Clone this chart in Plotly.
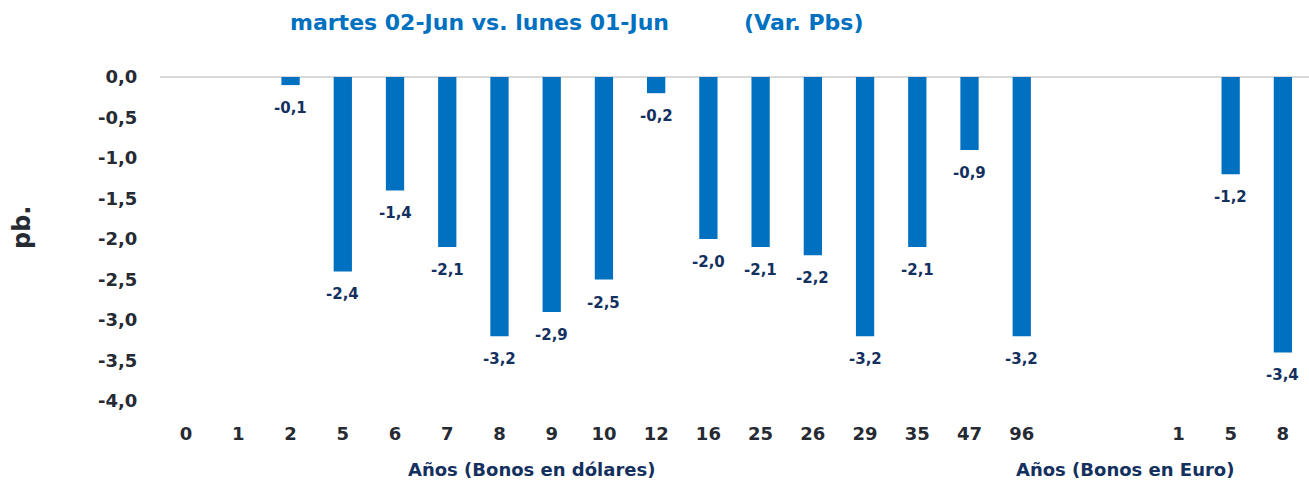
import plotly.graph_objects as go

categories = ["0", "1", "2", "5", "6", "7", "8", "9", "10", "12", "16", "25", "26", "29",
              "35", "47", "96", "", "", "1", "5", "8"]
values = [0.0, 0.0, -0.1, -2.4, -1.4, -2.1, -3.2, -2.9, -2.5, -0.2, -2.0, -2.1, -2.2, -3.2,
          -2.1, -0.9, -3.2, None, None, 0.0, -1.2, -3.4]
y_ticks = [0.0, -0.5, -1.0, -1.5, -2.0, -2.5, -3.0, -3.5, -4.0]

FONT = "DejaVu Sans"
BAR = "#0070C0"
NAVY = "#14305E"
DARK = "#262A33"

W, H = 1309, 486
L, R, T, B = 160, 0, 77, 85


def fmt(v):
    return ("%.1f" % v).replace(".", ",")


xs = list(range(len(categories)))

fig = go.Figure(go.Bar(
    x=xs, y=values, marker=dict(color=BAR, line=dict(width=0)),
))

anns = []
for xi, v in zip(xs, values):
    if v is None or v == 0:
        continue
    anns.append(dict(x=xi, y=v, xref="x", yref="y", text=fmt(v), showarrow=False,
                     yanchor="middle", yshift=-23,
                     font=dict(family=FONT, size=15, color=NAVY, weight="bold")))

pw, ph = W - L - R, H - T - B


def px_ann(text, px, py, anchor, size, color, angle=0):
    return dict(text=text, showarrow=False, xref="paper", yref="paper",
                x=(px - L) / pw, y=1 - (py - T) / ph, xanchor=anchor, yanchor="middle",
                textangle=angle,
                font=dict(family=FONT, size=size, color=color, weight="bold"))


anns += [
    px_ann("martes 02-Jun vs. lunes 01-Jun", 288, 23, "left", 22, BAR),
    px_ann("(Var. Pbs)", 742, 23, "left", 22, BAR),
    px_ann("Años (Bonos en dólares)", 531, 469, "center", 18, NAVY),
    px_ann("Años (Bonos en Euro)", 1125, 469, "center", 18, NAVY),
    px_ann("pb.", 22, 228, "center", 24, DARK, angle=-90),
]

fig.update_layout(
    width=W, height=H,
    margin=dict(l=L, r=R, t=T, b=B, autoexpand=False),
    plot_bgcolor="white", paper_bgcolor="white",
    bargap=0.65, showlegend=False,
    font=dict(family=FONT),
    xaxis=dict(tickmode="array", tickvals=xs, ticktext=categories,
               range=[-0.5, len(xs) - 0.5], showgrid=False, showline=False,
               zeroline=False, ticks="outside", ticklen=16, tickcolor="rgba(0,0,0,0)",
               tickfont=dict(family=FONT, size=18, color=DARK, weight="bold")),
    yaxis=dict(range=[-4, 0], tickmode="array", tickvals=y_ticks,
               ticktext=[fmt(v) for v in y_ticks], showgrid=False,
               zeroline=True, zerolinecolor="#D9D9D9", zerolinewidth=2,
               ticks="outside", ticklen=18, tickcolor="rgba(0,0,0,0)",
               tickfont=dict(family=FONT, size=18, color=DARK, weight="bold")),
    annotations=anns,
)

fig.write_html("out.html", config={"displayModeBar": False},
               post_script="document.body.style.margin='0';")
